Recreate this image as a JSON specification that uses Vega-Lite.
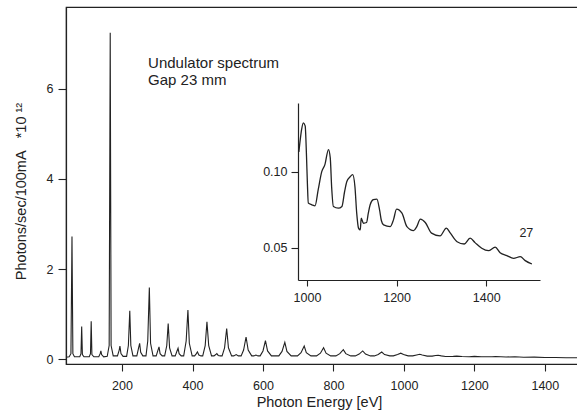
{
  "$schema": "https://vega.github.io/schema/vega-lite/v6.json",
  "width": 512,
  "height": 357,
  "autosize": {"type": "none"},
  "padding": {"left": 66, "top": 7, "right": 0, "bottom": 49},
  "background": "white",
  "config": {
    "view": {"stroke": "#222", "strokeWidth": 1.2},
    "font": "Liberation Sans",
    "axis": {
      "grid": false,
      "domainColor": "#222",
      "domainWidth": 1.2,
      "tickColor": "#222",
      "tickWidth": 1.1,
      "labelColor": "#222",
      "titleColor": "#222",
      "labelFont": "Liberation Sans",
      "titleFont": "Liberation Sans",
      "titleFontWeight": "normal",
      "labelFontSize": 12.5,
      "titleFontSize": 14.5
    }
  },
  "datasets": {
    "main": [
      {"E": 41, "v": 0.04}, {"E": 50, "v": 0.05}, {"E": 55, "v": 0.12}, {"E": 58, "v": 2.72}, {"E": 60.5, "v": 0.12}, {"E": 65, "v": 0.05},
      {"E": 80, "v": 0.05}, {"E": 83.5, "v": 0.12}, {"E": 85.5, "v": 0.72}, {"E": 87.5, "v": 0.1}, {"E": 92, "v": 0.05},
      {"E": 107, "v": 0.05}, {"E": 110.5, "v": 0.12}, {"E": 112.5, "v": 0.84}, {"E": 114.5, "v": 0.1}, {"E": 120, "v": 0.05},
      {"E": 134, "v": 0.05}, {"E": 138, "v": 0.12}, {"E": 140, "v": 0.18}, {"E": 142, "v": 0.1}, {"E": 148, "v": 0.05},
      {"E": 158, "v": 0.06}, {"E": 163.5, "v": 0.3}, {"E": 166.5, "v": 7.25}, {"E": 169, "v": 0.3}, {"E": 175, "v": 0.07},
      {"E": 187, "v": 0.07}, {"E": 192, "v": 0.2}, {"E": 194, "v": 0.29}, {"E": 197, "v": 0.12}, {"E": 203, "v": 0.06},
      {"E": 213, "v": 0.06}, {"E": 218, "v": 0.3}, {"E": 222, "v": 1.07}, {"E": 225, "v": 0.3}, {"E": 231, "v": 0.07},
      {"E": 242, "v": 0.07}, {"E": 247, "v": 0.25}, {"E": 250, "v": 0.35}, {"E": 253, "v": 0.15}, {"E": 259, "v": 0.07},
      {"E": 268, "v": 0.07}, {"E": 273, "v": 0.4}, {"E": 277.5, "v": 1.59}, {"E": 281, "v": 0.35}, {"E": 288, "v": 0.07},
      {"E": 297, "v": 0.07}, {"E": 302, "v": 0.2}, {"E": 305, "v": 0.27}, {"E": 308, "v": 0.12}, {"E": 314, "v": 0.07},
      {"E": 321, "v": 0.07}, {"E": 327, "v": 0.3}, {"E": 331, "v": 0.79}, {"E": 335, "v": 0.25}, {"E": 342, "v": 0.07},
      {"E": 351, "v": 0.07}, {"E": 356, "v": 0.18}, {"E": 359, "v": 0.24}, {"E": 362, "v": 0.12}, {"E": 368, "v": 0.07},
      {"E": 375, "v": 0.07}, {"E": 382, "v": 0.4}, {"E": 387, "v": 1.09}, {"E": 391, "v": 0.35}, {"E": 399, "v": 0.07},
      {"E": 406, "v": 0.07}, {"E": 411, "v": 0.12}, {"E": 414, "v": 0.16}, {"E": 418, "v": 0.09}, {"E": 424, "v": 0.07},
      {"E": 429, "v": 0.07}, {"E": 436, "v": 0.3}, {"E": 441, "v": 0.83}, {"E": 446, "v": 0.3}, {"E": 454, "v": 0.07},
      {"E": 461, "v": 0.07}, {"E": 466, "v": 0.1}, {"E": 469, "v": 0.12}, {"E": 473, "v": 0.08}, {"E": 479, "v": 0.07},
      {"E": 484, "v": 0.07}, {"E": 491, "v": 0.25}, {"E": 497, "v": 0.68}, {"E": 502, "v": 0.25}, {"E": 511, "v": 0.07},
      {"E": 517, "v": 0.07}, {"E": 524, "v": 0.1}, {"E": 530, "v": 0.07},
      {"E": 538, "v": 0.07}, {"E": 545, "v": 0.2}, {"E": 552, "v": 0.49}, {"E": 558, "v": 0.2}, {"E": 568, "v": 0.07},
      {"E": 574, "v": 0.07}, {"E": 580, "v": 0.09}, {"E": 586, "v": 0.07},
      {"E": 592, "v": 0.07}, {"E": 600, "v": 0.18}, {"E": 607, "v": 0.41}, {"E": 613, "v": 0.18}, {"E": 624, "v": 0.07},
      {"E": 645, "v": 0.07}, {"E": 654, "v": 0.17}, {"E": 662, "v": 0.37}, {"E": 668, "v": 0.17}, {"E": 680, "v": 0.07},
      {"E": 698, "v": 0.07}, {"E": 708, "v": 0.14}, {"E": 717, "v": 0.29}, {"E": 723, "v": 0.14}, {"E": 736, "v": 0.07},
      {"E": 752, "v": 0.07}, {"E": 763, "v": 0.13}, {"E": 772, "v": 0.25}, {"E": 779, "v": 0.13}, {"E": 792, "v": 0.07},
      {"E": 807, "v": 0.07}, {"E": 818, "v": 0.12}, {"E": 828, "v": 0.21}, {"E": 835, "v": 0.12}, {"E": 849, "v": 0.07},
      {"E": 862, "v": 0.07}, {"E": 873, "v": 0.11}, {"E": 883, "v": 0.18}, {"E": 891, "v": 0.11}, {"E": 905, "v": 0.07},
      {"E": 916, "v": 0.07}, {"E": 927, "v": 0.1}, {"E": 937, "v": 0.155}, {"E": 945, "v": 0.1}, {"E": 960, "v": 0.07},
      {"E": 970, "v": 0.07}, {"E": 982, "v": 0.1}, {"E": 991, "v": 0.13}, {"E": 999, "v": 0.1}, {"E": 1012, "v": 0.07},
      {"E": 1025, "v": 0.07}, {"E": 1036, "v": 0.09}, {"E": 1045, "v": 0.105}, {"E": 1052, "v": 0.09}, {"E": 1066, "v": 0.065},
      {"E": 1080, "v": 0.065}, {"E": 1090, "v": 0.08}, {"E": 1097, "v": 0.085}, {"E": 1106, "v": 0.07}, {"E": 1118, "v": 0.055},
      {"E": 1140, "v": 0.06}, {"E": 1150, "v": 0.065}, {"E": 1165, "v": 0.055}, {"E": 1185, "v": 0.05}, {"E": 1200, "v": 0.06},
      {"E": 1220, "v": 0.05}, {"E": 1250, "v": 0.05}, {"E": 1260, "v": 0.055}, {"E": 1290, "v": 0.045}, {"E": 1315, "v": 0.05},
      {"E": 1340, "v": 0.04}, {"E": 1370, "v": 0.042}, {"E": 1400, "v": 0.035}, {"E": 1430, "v": 0.036}, {"E": 1460, "v": 0.03}, {"E": 1494, "v": 0.03}
    ],
    "inset": [
      {"E": 982, "v": 0.113}, {"E": 985, "v": 0.121}, {"E": 988, "v": 0.1276}, {"E": 992, "v": 0.132}, {"E": 996, "v": 0.13}, {"E": 999, "v": 0.11},
      {"E": 1001, "v": 0.092}, {"E": 1003, "v": 0.0794}, {"E": 1011, "v": 0.0783}, {"E": 1018, "v": 0.0776}, {"E": 1025, "v": 0.088}, {"E": 1033, "v": 0.1},
      {"E": 1040, "v": 0.1046}, {"E": 1048, "v": 0.1145}, {"E": 1052, "v": 0.109}, {"E": 1055, "v": 0.0903}, {"E": 1059, "v": 0.0772},
      {"E": 1070, "v": 0.0761}, {"E": 1078, "v": 0.0772}, {"E": 1084, "v": 0.087}, {"E": 1089, "v": 0.0936}, {"E": 1096, "v": 0.0965}, {"E": 1102, "v": 0.098},
      {"E": 1107, "v": 0.0903}, {"E": 1111, "v": 0.0728}, {"E": 1115, "v": 0.063}, {"E": 1119, "v": 0.0618}, {"E": 1121, "v": 0.0695},
      {"E": 1126, "v": 0.0662}, {"E": 1133, "v": 0.0667}, {"E": 1137, "v": 0.073}, {"E": 1141, "v": 0.0783}, {"E": 1148, "v": 0.0816}, {"E": 1156, "v": 0.082},
      {"E": 1162, "v": 0.075}, {"E": 1166, "v": 0.068}, {"E": 1171, "v": 0.0651}, {"E": 1186, "v": 0.064}, {"E": 1193, "v": 0.0684}, {"E": 1200, "v": 0.0755},
      {"E": 1212, "v": 0.0728}, {"E": 1223, "v": 0.064}, {"E": 1238, "v": 0.0614}, {"E": 1245, "v": 0.064}, {"E": 1253, "v": 0.0689},
      {"E": 1264, "v": 0.0667}, {"E": 1278, "v": 0.0597}, {"E": 1297, "v": 0.0579}, {"E": 1311, "v": 0.063}, {"E": 1320, "v": 0.0597},
      {"E": 1335, "v": 0.0541}, {"E": 1351, "v": 0.0526}, {"E": 1364, "v": 0.0564}, {"E": 1375, "v": 0.0535}, {"E": 1390, "v": 0.0498},
      {"E": 1405, "v": 0.0482}, {"E": 1420, "v": 0.0505}, {"E": 1431, "v": 0.0469}, {"E": 1446, "v": 0.045}, {"E": 1461, "v": 0.0432},
      {"E": 1476, "v": 0.0443}, {"E": 1487, "v": 0.0417}, {"E": 1502, "v": 0.0395}
    ],
    "notes": [
      {"E": 274, "v": 6.47, "label": "Undulator spectrum"},
      {"E": 274, "v": 6.08, "label": "Gap 23 mm"}
    ],
    "insetNotes": [
      {"E": 1474, "v": 0.0572, "label": "27"}
    ]
  },
  "layer": [
    {
      "layer": [
        {
          "data": {"name": "main"},
          "mark": {"type": "line", "color": "#222", "strokeWidth": 1.1},
          "encoding": {
            "x": {
              "field": "E", "type": "quantitative",
              "scale": {"domain": [41, 1494], "nice": false, "zero": false},
              "axis": {
                "orient": "bottom", "values": [200, 400, 600, 800, 1000, 1200, 1400], "format": "d",
                "tickSize": 7, "labelPadding": 8,
                "title": "Photon Energy [eV]",
                "titleX": 253, "titleY": 38, "titleAlign": "center", "titleBaseline": "middle"
              }
            },
            "y": {
              "field": "v", "type": "quantitative",
              "scale": {"domain": [-0.11, 7.82], "nice": false, "zero": false},
              "axis": {
                "orient": "left", "values": [0, 2, 4, 6],
                "tickSize": 8, "labelPadding": 5,
                "title": "Photons/sec/100mA\u00a0\u00a0\u00a0*10\u00a0¹²",
                "titleX": -45, "titleY": 184, "titleAngle": -90, "titleAlign": "center", "titleBaseline": "middle"
              }
            }
          }
        },
        {
          "data": {"name": "notes"},
          "mark": {"type": "text", "align": "left", "baseline": "alphabetic", "fontSize": 15, "color": "#222", "font": "Liberation Sans"},
          "encoding": {
            "x": {"field": "E", "type": "quantitative"},
            "y": {"field": "v", "type": "quantitative"},
            "text": {"field": "label"}
          }
        }
      ]
    },
    {
      "layer": [
        {
          "data": {"name": "inset"},
          "mark": {"type": "line", "color": "#222", "strokeWidth": 1.3, "interpolate": "monotone"},
          "encoding": {
            "x": {
              "field": "E", "type": "quantitative",
              "scale": {"domain": [980, 1520], "range": [232, 474], "nice": false, "zero": false},
              "axis": {
                "orient": "bottom", "offset": -84, "values": [1000, 1200, 1400], "format": "d",
                "tickSize": 6, "labelPadding": 5, "title": null
              }
            },
            "y": {
              "field": "v", "type": "quantitative",
              "scale": {"domain": [0.029, 0.145], "range": [273, 96], "nice": false, "zero": false},
              "axis": {
                "orient": "left", "offset": -232, "values": [0.05, 0.1], "format": ".2f",
                "tickSize": 7, "labelPadding": 4, "title": null
              }
            }
          }
        },
        {
          "data": {"name": "insetNotes"},
          "mark": {"type": "text", "align": "left", "baseline": "alphabetic", "fontSize": 12.5, "color": "#222", "font": "Liberation Sans"},
          "encoding": {
            "x": {"field": "E", "type": "quantitative"},
            "y": {"field": "v", "type": "quantitative"},
            "text": {"field": "label"}
          }
        }
      ]
    }
  ],
  "resolve": {"scale": {"x": "independent", "y": "independent"}, "axis": {"x": "independent", "y": "independent"}}
}
